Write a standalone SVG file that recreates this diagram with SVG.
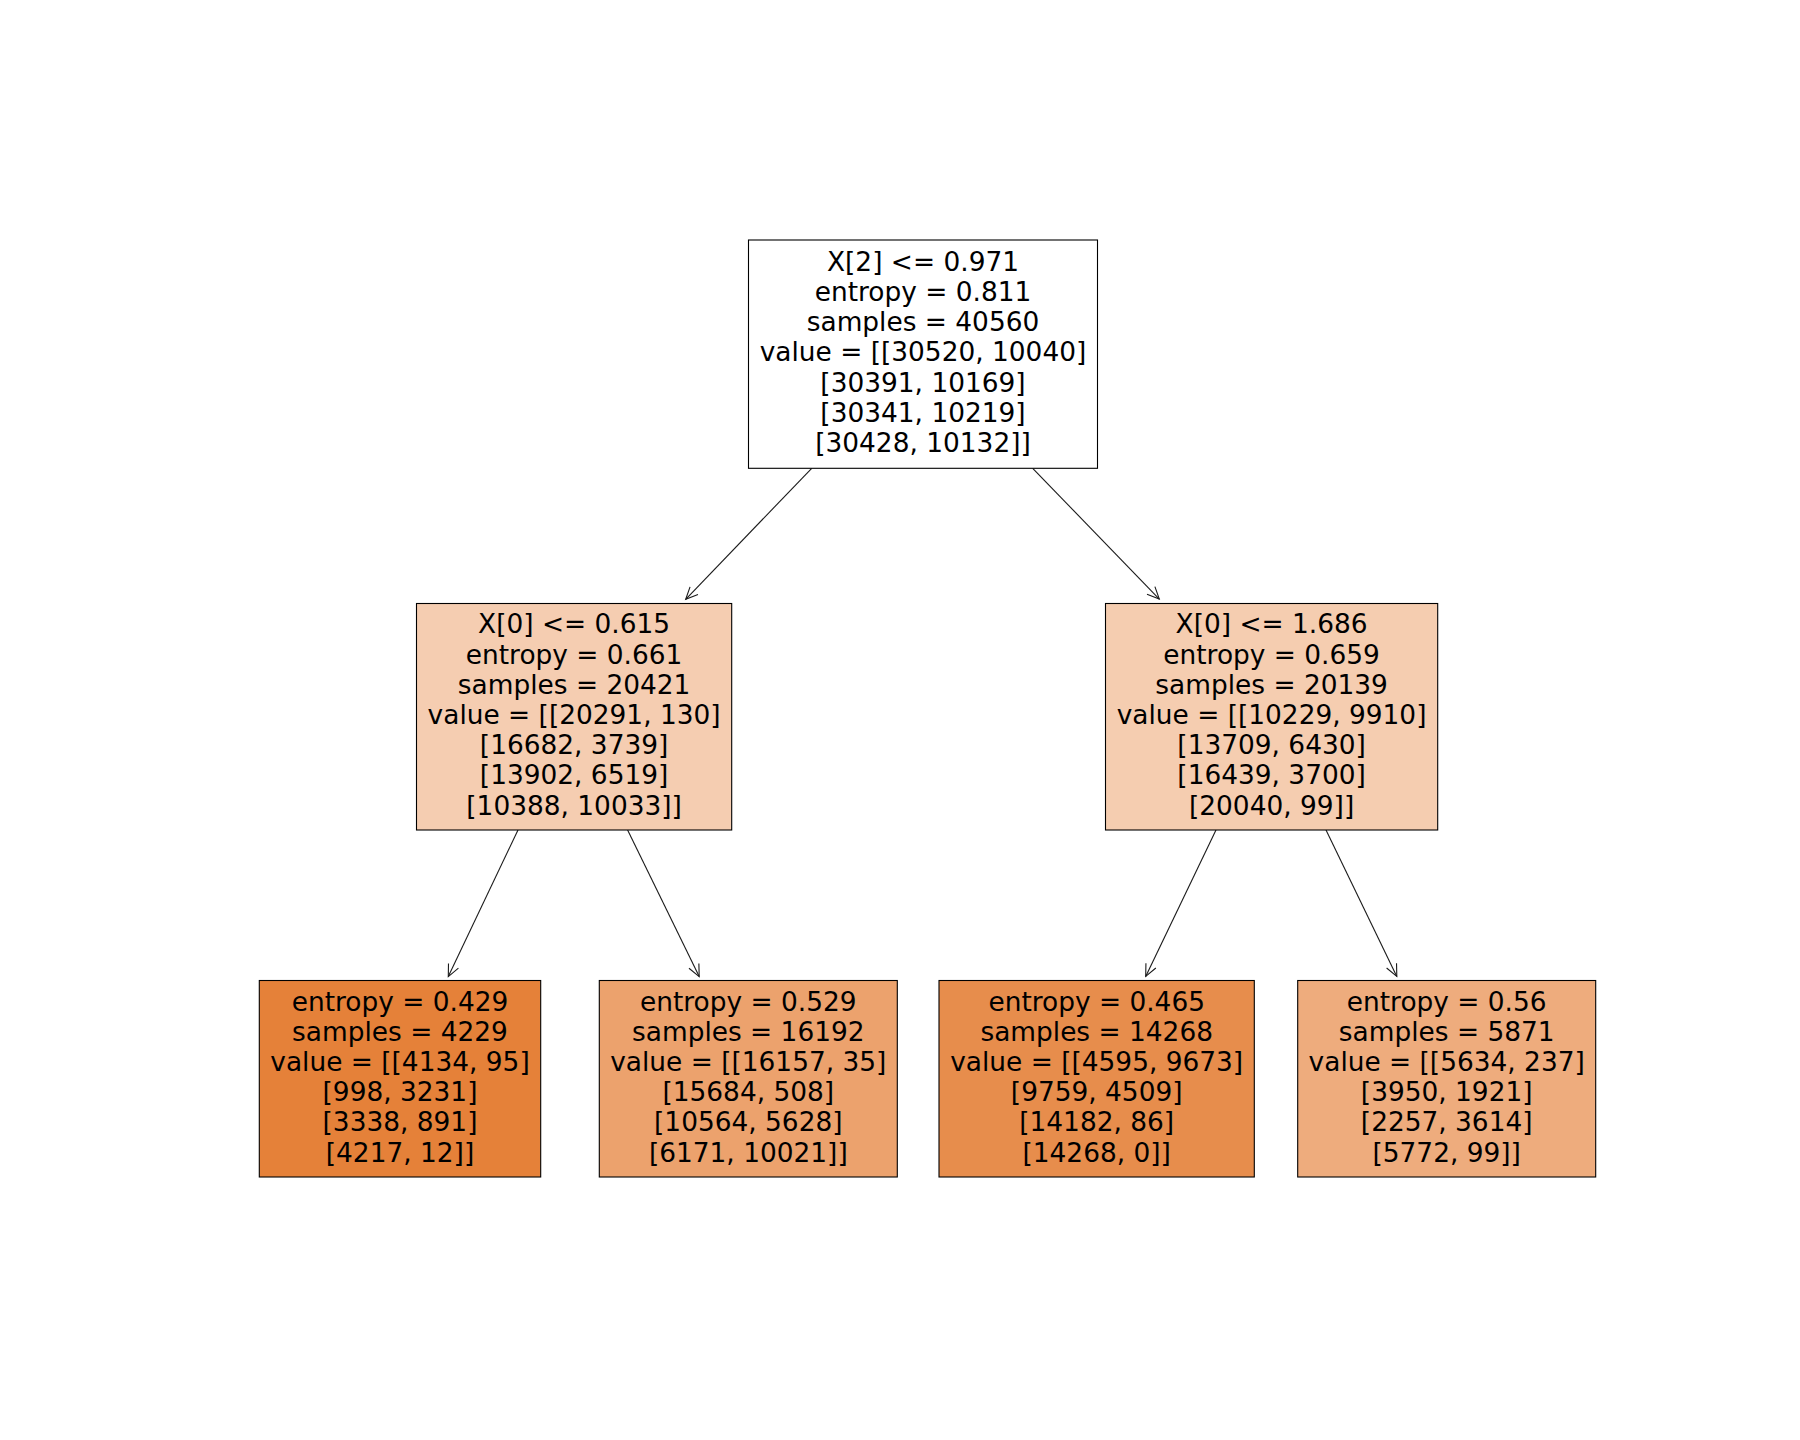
<svg xmlns="http://www.w3.org/2000/svg" width="1800" height="1440" viewBox="0 0 1800 1440">
  <style>
    .box { stroke: #000; stroke-width: 1.1; }
    .lbl { font-family: "DejaVu Sans", Verdana, sans-serif; font-size: 26.4px; fill: #000; text-anchor: middle; }
    .edge { stroke: #1a1a1a; stroke-width: 1.1; fill: none; marker-end: url(#head); }
  </style>
  <defs>
    <marker id="head" markerUnits="userSpaceOnUse" markerWidth="30" markerHeight="30" refX="0" refY="0" viewBox="-15 -15 30 30" orient="auto" overflow="visible">
      <path d="M -12 -5.5 L 0 0 L -12 5.5" fill="none" stroke="#1a1a1a" stroke-width="1.1"/>
    </marker>
  </defs>
  <rect width="1800" height="1440" fill="#fff"/>

  <g id="connectors">
    <line class="edge" x1="811.7" y1="468.3" x2="685.7" y2="599.3"/>
    <line class="edge" x1="1032.7" y1="468.3" x2="1159.3" y2="599.1"/>
    <line class="edge" x1="518" y1="830" x2="448.3" y2="976.6"/>
    <line class="edge" x1="627.6" y1="830" x2="699.2" y2="976.6"/>
    <line class="edge" x1="1216" y1="830" x2="1145.7" y2="976.4"/>
    <line class="edge" x1="1326" y1="830" x2="1396.8" y2="976.4"/>
  </g>

  <!-- split on X[2] -->
  <g id="node0">
    <rect class="box" x="748.5" y="240" width="349" height="228.3" fill="#ffffff"/>
    <text class="lbl" x="923" y="270.8">X[2] &lt;= 0.971</text>
    <text class="lbl" x="923" y="301">entropy = 0.811</text>
    <text class="lbl" x="923" y="331.2">samples = 40560</text>
    <text class="lbl" x="923" y="361.4">value = [[30520, 10040]</text>
    <text class="lbl" x="923" y="391.6">[30391, 10169]</text>
    <text class="lbl" x="923" y="421.8">[30341, 10219]</text>
    <text class="lbl" x="923" y="452">[30428, 10132]]</text>
  </g>

  <g id="node1">
    <rect class="box" x="416.5" y="603.5" width="315.2" height="226.5" fill="#f5cdb1"/>
    <text class="lbl" x="574.1" y="633.4">X[0] &lt;= 0.615</text>
    <text class="lbl" x="574.1" y="663.6">entropy = 0.661</text>
    <text class="lbl" x="574.1" y="693.8">samples = 20421</text>
    <text class="lbl" x="574.1" y="724">value = [[20291, 130]</text>
    <text class="lbl" x="574.1" y="754.2">[16682, 3739]</text>
    <text class="lbl" x="574.1" y="784.4">[13902, 6519]</text>
    <text class="lbl" x="574.1" y="814.6">[10388, 10033]]</text>
  </g>

  <g id="node4">
    <rect class="box" x="1105.5" y="603.5" width="332.2" height="226.5" fill="#f5cdb0"/>
    <text class="lbl" x="1271.6" y="633.4">X[0] &lt;= 1.686</text>
    <text class="lbl" x="1271.6" y="663.6">entropy = 0.659</text>
    <text class="lbl" x="1271.6" y="693.8">samples = 20139</text>
    <text class="lbl" x="1271.6" y="724">value = [[10229, 9910]</text>
    <text class="lbl" x="1271.6" y="754.2">[13709, 6430]</text>
    <text class="lbl" x="1271.6" y="784.4">[16439, 3700]</text>
    <text class="lbl" x="1271.6" y="814.6">[20040, 99]]</text>
  </g>

  <g id="node2">
    <rect class="box" x="259.3" y="980.5" width="281.4" height="196.5" fill="#e58139"/>
    <text class="lbl" x="400" y="1010.5">entropy = 0.429</text>
    <text class="lbl" x="400" y="1040.7">samples = 4229</text>
    <text class="lbl" x="400" y="1070.9">value = [[4134, 95]</text>
    <text class="lbl" x="400" y="1101.1">[998, 3231]</text>
    <text class="lbl" x="400" y="1131.3">[3338, 891]</text>
    <text class="lbl" x="400" y="1161.5">[4217, 12]]</text>
  </g>

  <g id="node3">
    <rect class="box" x="599.3" y="980.5" width="298" height="196.5" fill="#eca26d"/>
    <text class="lbl" x="748.3" y="1010.5">entropy = 0.529</text>
    <text class="lbl" x="748.3" y="1040.7">samples = 16192</text>
    <text class="lbl" x="748.3" y="1070.9">value = [[16157, 35]</text>
    <text class="lbl" x="748.3" y="1101.1">[15684, 508]</text>
    <text class="lbl" x="748.3" y="1131.3">[10564, 5628]</text>
    <text class="lbl" x="748.3" y="1161.5">[6171, 10021]]</text>
  </g>

  <g id="node5">
    <rect class="box" x="939" y="980.5" width="315.3" height="196.5" fill="#e78d4c"/>
    <text class="lbl" x="1096.7" y="1010.5">entropy = 0.465</text>
    <text class="lbl" x="1096.7" y="1040.7">samples = 14268</text>
    <text class="lbl" x="1096.7" y="1070.9">value = [[4595, 9673]</text>
    <text class="lbl" x="1096.7" y="1101.1">[9759, 4509]</text>
    <text class="lbl" x="1096.7" y="1131.3">[14182, 86]</text>
    <text class="lbl" x="1096.7" y="1161.5">[14268, 0]]</text>
  </g>

  <g id="node6">
    <rect class="box" x="1297.7" y="980.5" width="298" height="196.5" fill="#eeac7d"/>
    <text class="lbl" x="1446.7" y="1010.5">entropy = 0.56</text>
    <text class="lbl" x="1446.7" y="1040.7">samples = 5871</text>
    <text class="lbl" x="1446.7" y="1070.9">value = [[5634, 237]</text>
    <text class="lbl" x="1446.7" y="1101.1">[3950, 1921]</text>
    <text class="lbl" x="1446.7" y="1131.3">[2257, 3614]</text>
    <text class="lbl" x="1446.7" y="1161.5">[5772, 99]]</text>
  </g>
</svg>
